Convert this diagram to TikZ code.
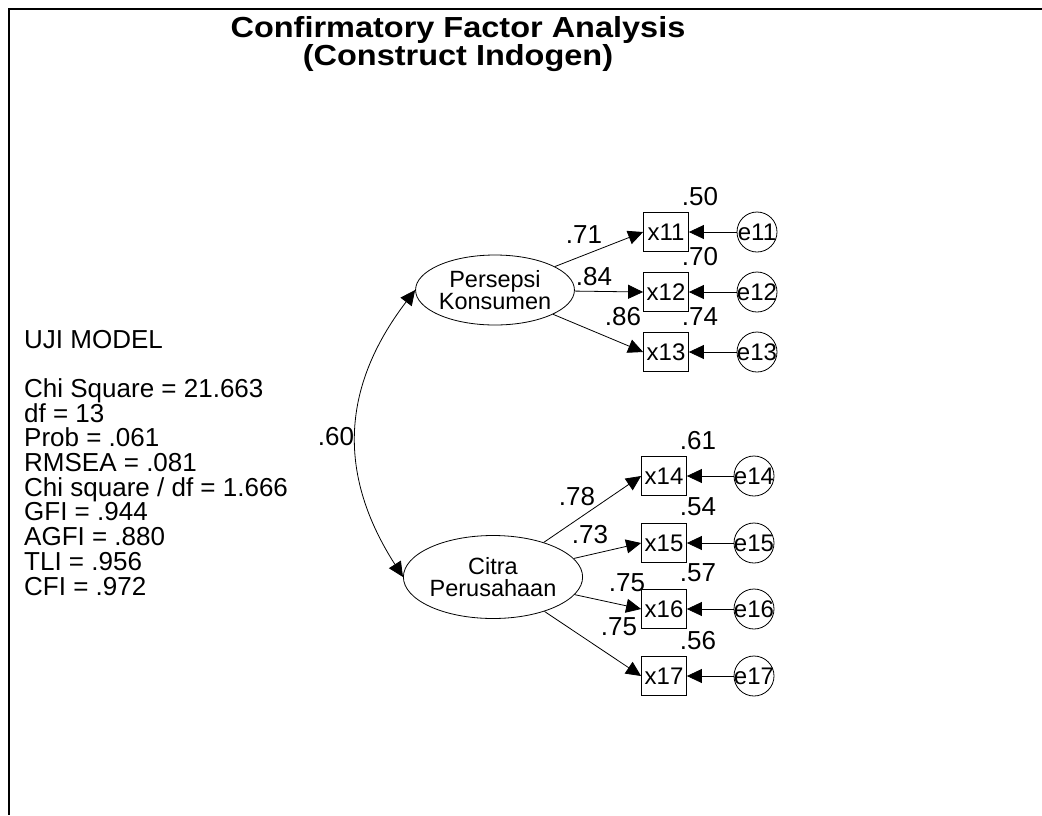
\documentclass[tikz,border=0pt]{standalone}
\usepackage{fontspec}
\setmainfont{Liberation Sans}
\newfontfamily\headfont[FakeStretch=1.12]{Liberation Sans Bold}
\usetikzlibrary{arrows.meta,shapes.geometric}

\tikzset{
  latent/.style={draw, ellipse, inner sep=0pt, align=center, line width=0.8pt,
    font=\fontsize{23.5}{21.5}\selectfont},
  observed/.style={draw, rectangle, minimum width=45pt, minimum height=39pt,
    inner sep=0pt, line width=0.8pt, font=\fontsize{24}{24}\selectfont},
  error/.style={draw, circle, minimum size=40pt, inner sep=-2pt, line width=0.8pt,
    font=\fontsize{24}{24}\selectfont},
  coef/.style={inner sep=0pt, font=\fontsize{26}{26}\selectfont},
  load/.style={-{Triangle[length=15pt,width=14pt]}, line width=0.8pt}
}

\begin{document}
\begin{tikzpicture}[x=1pt, y=-1pt]
  \useasboundingbox (0,0) rectangle (1042,815);
  \fill[white] (0,0) rectangle (1042,815);
  \draw[line width=2pt] (1042,9) -- (8.5,9) -- (8.5,815);

  % title and fit measures
  \node[anchor=base, align=center, inner sep=0pt,
    font=\headfont\fontsize{29}{28}\selectfont] (title) at (458,65)
    {Confirmatory Factor Analysis\\(Construct Indogen)};
  \node[anchor=base west, align=left, inner sep=0pt,
    font=\fontsize{26}{24.7}\selectfont] (fit) at (24,595)
    {UJI MODEL\\[24.7pt]
     Chi Square = 21.663\\
     df = 13\\
     Prob = .061\\
     RMSEA = .081\\
     Chi square / df = 1.666\\
     GFI = .944\\
     AGFI = .880\\
     TLI = .956\\
     CFI = .972};

  % latent constructs
  \node[latent, minimum width=155pt, minimum height=70pt] (pk) at (495,290) {Persepsi\\Konsumen};
  \node[latent, minimum width=162pt, minimum height=83pt] (cp) at (493,577) {Citra\\Perusahaan};

  % indicators
  \node[observed] (x11) at (666,232) {x11};
  \node[observed] (x12) at (666,292) {x12};
  \node[observed] (x13) at (666,352) {x13};
  \node[observed] (x14) at (664,476) {x14};
  \node[observed] (x15) at (664,543) {x15};
  \node[observed] (x16) at (664,609) {x16};
  \node[observed] (x17) at (664,676) {x17};

  % errors
  \node[error] (e11) at (757,232) {e11};
  \node[error] (e12) at (757,292) {e12};
  \node[error] (e13) at (757,352) {e13};
  \node[error] (e14) at (754,476) {e14};
  \node[error] (e15) at (754,543) {e15};
  \node[error] (e16) at (754,609) {e16};
  \node[error] (e17) at (754,676) {e17};

  % loadings
  \path[load]
  (pk) edge (x11.west)
       edge (x12.west)
       edge (x13.west)
  (cp) edge (x14.west)
       edge (x15.west)
       edge (x16.west)
       edge (x17.west)
  (e11) edge (x11) (e12) edge (x12) (e13) edge (x13)
  (e14) edge (x14) (e15) edge (x15) (e16) edge (x16) (e17) edge (x17);

  \draw[{Triangle[length=15pt,width=14pt]}-{Triangle[length=15pt,width=14pt]}, line width=0.8pt]
    (pk.west) .. controls (339,390) and (339,477) .. (cp.west);

  \node[coef] (r60) at (336,437) {.60};
  \node[coef] (l11) at (584,235) {.71};
  \node[coef] (l12) at (594,277) {.84};
  \node[coef] (l13) at (623,317) {.86};
  \node[coef] (l14) at (577,497) {.78};
  \node[coef] (l15) at (590,535) {.73};
  \node[coef] (l16) at (627,583) {.75};
  \node[coef] (l17) at (619,627) {.75};

  % squared multiple correlations
  \node[coef] (s11) at ([xshift=11pt,yshift=16pt]x11.north east) {.50};
  \node[coef] (s12) at ([xshift=11pt,yshift=16pt]x12.north east) {.70};
  \node[coef] (s13) at ([xshift=11pt,yshift=16pt]x13.north east) {.74};
  \node[coef] (s14) at ([xshift=11pt,yshift=16pt]x14.north east) {.61};
  \node[coef] (s15) at ([xshift=11pt,yshift=16pt]x15.north east) {.54};
  \node[coef] (s16) at ([xshift=11pt,yshift=16pt]x16.north east) {.57};
  \node[coef] (s17) at ([xshift=11pt,yshift=16pt]x17.north east) {.56};
\end{tikzpicture}
\end{document}
